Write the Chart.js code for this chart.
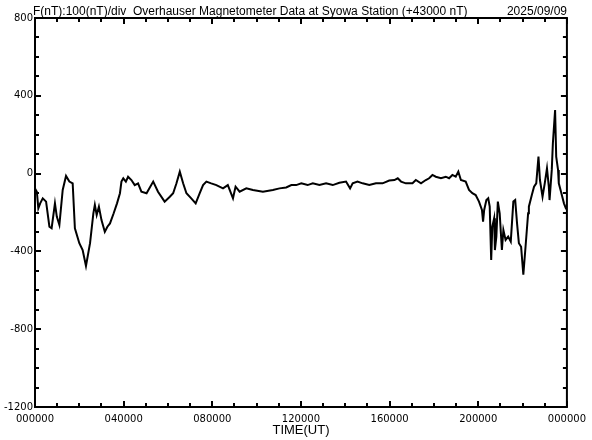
<!DOCTYPE html>
<html>
<head>
<meta charset="utf-8">
<script src="https://cdn.jsdelivr.net/npm/chart.js@4.4.0/dist/chart.umd.min.js"></script>
<style>
    body { margin: 0; background: #fff; }
    #wrap { width: 592px; height: 440px; position: relative; }
</style>
</head>
<body>
<div id="wrap"><canvas id="magChart"></canvas></div>
<script>
// minutes since 00:00 UT
var timeMin = [
    0, 5, 9, 14, 21, 30, 39, 45, 54, 59, 66, 75, 84, 93, 102, 108, 120, 129, 138, 149,
    158, 162, 167, 173, 180, 189, 196, 203, 213, 222, 230, 234, 239, 246, 252, 261, 270, 279, 288, 302,
    320, 333, 351, 365, 374, 383, 392, 401, 410, 423, 435, 446, 455, 464, 477, 491, 509, 522, 536, 543,
    554, 572, 590, 617, 644, 662, 680, 694, 707, 721, 738, 752, 770, 788, 806, 824, 842, 853, 860, 873,
    887, 905, 923, 941, 959, 973, 982, 991, 1004, 1022, 1031, 1045, 1058, 1067, 1076, 1085, 1099, 1112, 1121, 1130,
    1139, 1146, 1153, 1166, 1175, 1184, 1193, 1202, 1210, 1213, 1216, 1222, 1227, 1231, 1235, 1238, 1243, 1245, 1249, 1253,
    1258, 1264, 1268, 1274, 1281, 1288, 1295, 1300, 1305, 1310, 1316, 1322, 1328, 1335, 1337, 1345, 1351, 1357, 1363, 1367,
    1374, 1380, 1386, 1391, 1393, 1399, 1402, 1408, 1411, 1416, 1418, 1424, 1432, 1437, 1439
];
// F - 43000 nT
var fValues = [
    -76, -93, -178, -153, -127, -144, -273, -281, -153, -221, -264, -84, -12, -41, -50, -281, -358, -393, -475, -358,
    -204, -161, -213, -170, -239, -299, -273, -256, -204, -153, -101, -41, -24, -41, -16, -33, -59, -50, -93, -101,
    -41, -93, -144, -119, -101, -50, 10, -50, -101, -127, -153, -101, -59, -41, -50, -59, -76, -59, -127, -67,
    -93, -76, -84, -93, -84, -76, -71, -59, -59, -50, -59, -50, -59, -50, -59, -47, -41, -76, -50, -41,
    -50, -59, -50, -50, -36, -33, -24, -41, -50, -50, -33, -50, -33, -24, -7, -16, -24, -16, -24, -7,
    -16, 10, -33, -41, -84, -101, -110, -144, -187, -247, -187, -136, -127, -170, -444, -273, -230, -393, -324, -144,
    -204, -393, -290, -341, -324, -350, -144, -136, -256, -358, -376, -520, -376, -204, -170, -110, -67, -50, 87, -33,
    -119, -50, 27, -67, -136, 19, 156, 327, 87, 19, -50, -93, -153, -178, -175
];
var yMin = -1200, yMax = 800, yStep = 400, yMinor = 100;
var xMax = 1440, xStep = 240, xMinor = 60;

var titleText = "F(nT):100(nT)/div  Overhauser Magnetometer Data at Syowa Station (+43000 nT)";
var dateText = "2025/09/09";

function fmtTime(v) {
    var h = Math.round(v / 60) % 24;
    return String(h).padStart(2, "0") + "0000";
}

// frame, inward ticks and the header text
var framePlugin = {
    id: "frame",
    afterDraw: function (chart) {
        var ctx = chart.ctx;
        var a = chart.chartArea;
        var xs = chart.scales.x, ys = chart.scales.y;
        ctx.save();
        ctx.strokeStyle = "#000";
        ctx.lineWidth = 2;
        ctx.strokeRect(a.left, a.top, a.right - a.left, a.bottom - a.top);
        ctx.beginPath();
        for (var t = 0; t <= xMax; t += xMinor) {
            var px = Math.round(xs.getPixelForValue(t));
            var len = t % xStep === 0 ? 6 : 4;
            ctx.moveTo(px, a.bottom); ctx.lineTo(px, a.bottom - len);
            ctx.moveTo(px, a.top); ctx.lineTo(px, a.top + len);
        }
        for (var v = yMin; v <= yMax; v += yMinor) {
            var py = Math.round(ys.getPixelForValue(v));
            var l2 = v % yStep === 0 ? 6 : 4;
            ctx.moveTo(a.left, py); ctx.lineTo(a.left + l2, py);
            ctx.moveTo(a.right, py); ctx.lineTo(a.right - l2, py);
        }
        ctx.stroke();
        ctx.fillStyle = "#000";
        ctx.font = "12px 'Liberation Sans'";
        ctx.textBaseline = "alphabetic";
        ctx.textAlign = "left";
        ctx.fillText(titleText, 33, 15);
        ctx.textAlign = "right";
        ctx.fillText(dateText, 567, 15);
        ctx.restore();
    },
};

var ctx1 = document.getElementById("magChart").getContext("2d");
new Chart(ctx1, {
    type: "line",
    data: {
        datasets: [
            {
                data: timeMin.map(function (t, i) {
                    return { x: t, y: fValues[i] };
                }),
                borderColor: "#000",
                borderWidth: 2,
                pointRadius: 0,
                tension: 0,
                fill: false,
            },
        ],
    },
    options: {
        responsive: true,
        maintainAspectRatio: false,
        animation: false,
        layout: { padding: { top: 18, right: 24, bottom: 0, left: 0 } },
        plugins: {
            legend: { display: false },
            tooltip: { enabled: false },
        },
        scales: {
            x: {
                type: "linear",
                min: 0,
                max: xMax,
                grid: { display: false, drawTicks: false },
                border: { display: false },
                ticks: {
                    stepSize: xStep,
                    color: "#000",
                    padding: 6,
                    maxRotation: 0,
                    font: { family: "DejaVu Sans", size: 10 },
                    callback: function (v) { return fmtTime(v); },
                },
                title: {
                    display: true,
                    text: "TIME(UT)",
                    color: "#000",
                    font: { family: "Liberation Sans", size: 13 },
                    padding: { top: 0, bottom: 2 },
                },
                afterFit: function (s) { s.height = 33; },
            },
            y: {
                min: yMin,
                max: yMax,
                grid: { display: false, drawTicks: false },
                border: { display: false },
                ticks: {
                    stepSize: yStep,
                    color: "#000",
                    padding: 2,
                    font: { family: "DejaVu Sans", size: 10 },
                    callback: function (v) { return String(v); },
                },
                afterFit: function (s) { s.width = 35; },
            },
        },
    },
    plugins: [framePlugin],
});
</script>
</body>
</html>
